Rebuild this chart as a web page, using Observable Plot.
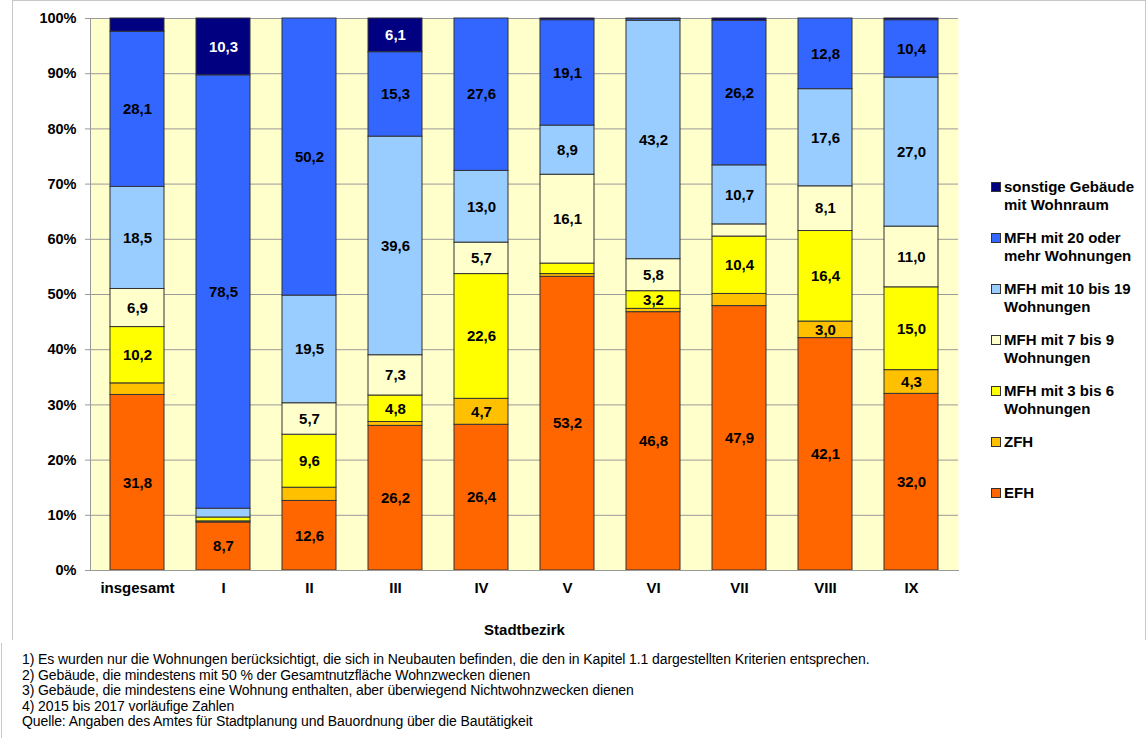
<!DOCTYPE html>
<html>
<head>
<meta charset="utf-8">
<script src="https://cdn.jsdelivr.net/npm/d3@7"></script>
<script src="https://cdn.jsdelivr.net/npm/@observablehq/plot@0.6"></script>
<style>
  body { margin: 0; background: white; }
  #wrap { position: relative; width: 1148px; height: 738px; overflow: hidden; font-family: "Liberation Sans", Arial, sans-serif; }
  #chart { position: absolute; left: 0; top: 0; }
  #box { position: absolute; left: 12px; top: 0; width: 1134px; height: 640px; border: 1px solid #c8c8c8; border-bottom: none; box-sizing: border-box; }
  #fbox { position: absolute; left: 1px; top: 643px; width: 1px; height: 95px; background: #c8c8c8; }
  #legend { position: absolute; left: 991px; top: 178px; }
  .item { height: 51px; display: flex; align-items: flex-start; }
  .sw { width: 8px; height: 8px; border: 1px solid #333; margin-top: 4px; margin-right: 3px; flex: none; }
  .lt { font-weight: bold; font-size: 15px; line-height: 18px; color: #000; }
  #notes { position: absolute; left: 22px; top: 652px; font-size: 14px; line-height: 15.5px; color: #000; letter-spacing: -0.1px; }
</style>
</head>
<body>
<div id="wrap">
  <div id="box"></div>
  <div id="fbox"></div>
  <div id="chart"></div>
  <div id="legend"></div>
  <div id="notes"></div>
</div>
<script>
// Categories (districts)
const bezirke = ["insgesamt", "I", "II", "III", "IV", "V", "VI", "VII", "VIII", "IX"];
// Building types, bottom to top of the stack
const typen = ["EFH", "ZFH", "MFH mit 3 bis 6 Wohnungen", "MFH mit 7 bis 9 Wohnungen", "MFH mit 10 bis 19 Wohnungen", "MFH mit 20 oder mehr Wohnungen", "sonstige Gebäude mit Wohnraum"];
const farben = ["#FF6600", "#FFC000", "#FFFF00", "#FFFFCC", "#99CCFF", "#3366FF", "#000080"];
// Legend labels (top to bottom, with line breaks as in the original)
const legendLabels = [
  ["sonstige Gebäude", "mit Wohnraum"],
  ["MFH mit 20 oder", "mehr Wohnungen"],
  ["MFH mit 10 bis 19", "Wohnungen"],
  ["MFH mit 7 bis 9", "Wohnungen"],
  ["MFH mit 3 bis 6", "Wohnungen"],
  ["ZFH"],
  ["EFH"]
];
// Shares in % per district
const efh      = [31.8, 8.7, 12.6, 26.2, 26.4, 53.2, 46.8, 47.9, 42.1, 32.0];
const zfh      = [2.1, 0.2, 2.4, 0.7, 4.7, 0.5, 0.6, 2.2, 3.0, 4.3];
const mfh3_6   = [10.2, 0.7, 9.6, 4.8, 22.6, 1.9, 3.2, 10.4, 16.4, 15.0];
const mfh7_9   = [6.9, 0.0, 5.7, 7.3, 5.7, 16.1, 5.8, 2.2, 8.1, 11.0];
const mfh10_19 = [18.5, 1.6, 19.5, 39.6, 13.0, 8.9, 43.2, 10.7, 17.6, 27.0];
const mfh20    = [28.1, 78.5, 50.2, 15.3, 27.6, 19.1, 0.3, 26.2, 12.8, 10.4];
const sonstige = [2.4, 10.3, 0.0, 6.1, 0.0, 0.3, 0.1, 0.4, 0.0, 0.3];
const yTicks = [0, 10, 20, 30, 40, 50, 60, 70, 80, 90, 100];
const footnotes = [
  "1) Es wurden nur die Wohnungen berücksichtigt, die sich in Neubauten befinden, die den in Kapitel 1.1 dargestellten Kriterien entsprechen.",
  "2) Gebäude, die mindestens mit 50 % der Gesamtnutzfläche Wohnzwecken dienen",
  "3) Gebäude, die mindestens eine Wohnung enthalten, aber überwiegend Nichtwohnzwecken dienen",
  "4) 2015 bis 2017 vorläufige Zahlen",
  "Quelle: Angaben des Amtes für Stadtplanung und Bauordnung über die Bautätigkeit"
];

const series = [efh, zfh, mfh3_6, mfh7_9, mfh10_19, mfh20, sonstige];
const data = [];
series.forEach((vals, i) => vals.forEach((v, j) => data.push({bezirk: bezirke[j], typ: typen[i], value: v})));

const fmt = v => v.toFixed(1).replace(".", ",");
const darkTyp = typen[6];

const chart = Plot.plot({
  width: 1148,
  height: 645,
  marginLeft: 90,
  marginRight: 190,
  marginTop: 18,
  marginBottom: 75,
  style: {fontFamily: "'Liberation Sans', Arial, sans-serif", fontSize: "15px", fontWeight: "bold", background: "transparent", color: "#000"},
  x: {domain: bezirke, paddingInner: 0.373, paddingOuter: 0.1865},
  y: {domain: [0, 100]},
  color: {domain: typen, range: farben},
  marks: [
    Plot.frame({fill: "#FFFFCC", stroke: null}),
    Plot.gridY(yTicks, {stroke: "#9a9a9a", strokeOpacity: 1, strokeWidth: 1}),
    Plot.barY(data, {x: "bezirk", y: "value", fill: "typ", order: typen, stroke: "#333", strokeWidth: 1}),
    Plot.text(data, Plot.stackY({x: "bezirk", y: "value", z: "typ", order: typen,
      text: d => (d.value >= 3 && d.typ !== darkTyp) ? fmt(d.value) : "", fill: "black", fontSize: 15, fontWeight: "bold"})),
    Plot.text(data, Plot.stackY({x: "bezirk", y: "value", z: "typ", order: typen,
      text: d => (d.value >= 3 && d.typ === darkTyp) ? fmt(d.value) : "", fill: "white", fontSize: 15, fontWeight: "bold"})),
    Plot.axisY(yTicks, {tickFormat: d => d + "%", tickSize: 5, tickPadding: 9, stroke: "#999", label: null, fontSize: 14.5, fontWeight: "bold"}),
    Plot.axisX({tickSize: 0, tickPadding: 12, label: "Stadtbezirk", labelAnchor: "center", labelOffset: 64, fontSize: 15, fontWeight: "bold"}),
    Plot.frame({anchor: "left", stroke: "#999"}),
    Plot.frame({anchor: "bottom", stroke: "#999"})
  ]
});
document.getElementById("chart").appendChild(chart);

// Legend
const leg = document.getElementById("legend");
legendLabels.forEach((lines, k) => {
  const idx = typen.length - 1 - k;
  const item = document.createElement("div");
  item.className = "item";
  const sw = document.createElement("div");
  sw.className = "sw";
  sw.style.background = farben[idx];
  const t = document.createElement("div");
  t.className = "lt";
  t.innerHTML = lines.join("<br>");
  item.appendChild(sw);
  item.appendChild(t);
  leg.appendChild(item);
});

// Footnotes
const notes = document.getElementById("notes");
footnotes.forEach(s => {
  const d = document.createElement("div");
  d.textContent = s;
  notes.appendChild(d);
});
</script>
</body>
</html>
